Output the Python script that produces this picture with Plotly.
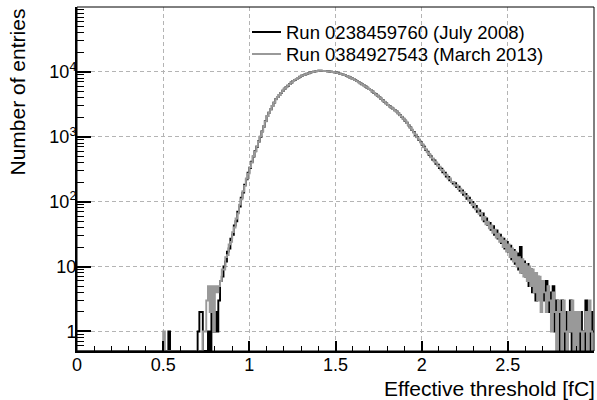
import numpy as np
import plotly.graph_objects as go

# ---------------- data ----------------
bin_width = 0.01
x_edges = np.round(np.arange(0, 301) * bin_width, 2)   # 0.00 ... 3.00

label_2008 = "Run 0238459760 (July 2008)"
label_2013 = "Run 0384927543 (March 2013)"

counts_2008 = [
    0, 0, 0, 0, 0, 0, 0, 0, 0, 0,            # 0.00
    0, 0, 0, 0, 0, 0, 0, 0, 0, 0,            # 0.10
    0, 0, 0, 0, 0, 0, 0, 0, 0, 0,            # 0.20
    0, 0, 0, 0, 0, 0, 0, 0, 0, 0,            # 0.30
    0, 0, 0, 0, 0, 0, 0, 0, 0, 0,            # 0.40
    0, 0, 0, 1, 0, 0, 0, 0, 0, 0,            # 0.50
    0, 0, 0, 0, 0, 0, 0, 0, 0, 0,            # 0.60
    1, 2, 2, 0, 0, 0, 1, 0, 2, 1,            # 0.70
    2, 1, 3, 6, 7, 10, 12, 17, 19, 27,       # 0.80
    31, 43, 50, 70, 84, 115, 138, 182, 221, 279,
    331, 412, 497, 601, 703, 846, 995, 1210, 1440, 1745,
    2080, 2360, 2648, 2999, 3366, 3810, 4087, 4415, 4735, 5112,
    5487, 5815, 6130, 6495, 6848, 7251, 7508, 7806, 8083, 8402,
    8702, 8921, 9112, 9341, 9543, 9780, 9901, 10052, 10179, 10335,
    10463, 10430, 10368, 10335, 10272, 10240, 10131, 10053, 9946, 9870,
    9765, 9601, 9412, 9254, 9071, 8920, 8662, 8440, 8197, 7987,
    7755, 7490, 7203, 6958, 6691, 6464, 6187, 5950, 5695, 5477,
    5240, 4996, 4735, 4515, 4278, 4081, 3848, 3655, 3444, 3273,
    3083, 2958, 2810, 2699, 2563, 2462, 2293, 2165, 2015, 1905,
    1770, 1645, 1499, 1395, 1268, 1183, 1068, 994, 897, 836,
    750, 703, 629, 590, 527, 497, 447, 430, 385, 372,
    331, 322, 284, 279, 244, 241, 214, 202, 190, 192,
    168, 170, 147, 149, 128, 131, 111, 115, 96, 99,
    82, 86, 70, 73, 61, 66, 50, 55, 44, 47,
    37, 42, 31, 36, 27, 31, 23, 27, 19, 24,
    17, 21, 13, 18, 11, 16, 9, 20, 8, 12,
    7, 11, 5, 9, 4, 8, 3, 7, 4, 6,
    5, 3, 6, 2, 4, 3, 5, 1, 3, 2,
    0, 3, 1, 0, 2, 1, 3, 0, 1, 2,
    1, 0, 2, 1, 0, 3, 1, 0, 2, 1,
]

counts_2013 = [
    0, 0, 0, 0, 0, 0, 0, 0, 0, 0,            # 0.00
    0, 0, 0, 0, 0, 0, 0, 0, 0, 0,            # 0.10
    0, 0, 0, 0, 0, 0, 0, 0, 0, 0,            # 0.20
    0, 0, 0, 0, 0, 0, 0, 0, 0, 0,            # 0.30
    0, 0, 0, 0, 0, 0, 0, 0, 0, 0,            # 0.40
    1, 0, 0, 0, 0, 0, 0, 0, 0, 0,            # 0.50
    0, 0, 0, 0, 0, 0, 0, 0, 0, 0,            # 0.60
    0, 0, 0, 1, 1, 3, 5, 2, 5, 1,            # 0.70
    5, 4, 5, 6, 9, 9, 14, 15, 22, 24,        # 0.80
    34, 40, 55, 66, 90, 109, 145, 175, 228, 270,
    339, 401, 505, 590, 712, 836, 1008, 1195, 1452, 1730,
    2095, 2349, 2661, 2985, 3380, 3795, 4100, 4398, 4750, 5098,
    5502, 5800, 6145, 6478, 6862, 7238, 7522, 7790, 8099, 8388,
    8718, 8905, 9128, 9325, 9557, 9765, 9915, 10039, 10193, 10321,
    10478, 10416, 10382, 10321, 10288, 10226, 10146, 10039, 9961, 9856,
    9779, 9587, 9426, 9240, 9085, 8906, 8677, 8426, 8211, 7973,
    7769, 7475, 7218, 6943, 6706, 6450, 6201, 5936, 5709, 5463,
    5255, 4982, 4749, 4501, 4292, 4067, 3862, 3641, 3458, 3259,
    3097, 2944, 2826, 2685, 2577, 2448, 2309, 2151, 2031, 1889,
    1786, 1629, 1515, 1379, 1284, 1167, 1084, 978, 911, 820,
    768, 687, 645, 576, 543, 483, 463, 416, 401, 358,
    347, 308, 300, 265, 260, 227, 228, 201, 202, 178,
    180, 156, 159, 137, 140, 121, 123, 103, 106, 89,
    92, 76, 78, 65, 67, 53, 58, 45, 49, 39,
    43, 33, 37, 28, 32, 24, 28, 20, 25, 17,
    22, 14, 19, 12, 17, 10, 14, 8, 13, 7,
    11, 6, 10, 5, 9, 4, 8, 3, 7, 2,
    6, 4, 2, 5, 3, 1, 4, 2, 0, 3,
    2, 0, 3, 1, 0, 2, 1, 3, 0, 2,
    0, 2, 1, 0, 1, 2, 0, 3, 1, 0,
]

x_tick_vals = [0, 0.5, 1, 1.5, 2, 2.5, 3]
x_tick_text = ["0", "0.5", "1", "1.5", "2", "2.5", "3"]
y_tick_vals = [1, 10, 100, 1000, 10000]
y_tick_text = ["1", "10", "10<sup>2</sup>", "10<sup>3</sup>", "10<sup>4</sup>"]

x_title = "Effective threshold [fC]"
y_title = "Number of entries"

# ---------------- figure ----------------
W, H = 597, 400
ML, MR, MT, MB = 77, 3, 7, 49
PW, PH = W - ML - MR, H - MT - MB

y_floor = 0.5          # zero bins drawn at the frame bottom (as ROOT does)
y_range_log = [np.log10(0.5), 5.0]


def px_x(px):
    return (px - ML) / PW


def px_y(py):
    return (H - MB - py) / PH


def step_xy(counts):
    c = np.asarray(counts, dtype=float)
    y = np.where(c > 0, c, y_floor)
    ys = np.append(y, y[-1])
    return x_edges, ys


FONT = "Liberation Sans, Arial, sans-serif"
series = [(counts_2008, label_2008, "black"),
          (counts_2013, label_2013, "#999999")]

fig = go.Figure()
for counts, name, color in series:
    xs, ys = step_xy(counts)
    fig.add_trace(go.Scatter(
        x=xs, y=ys, mode="lines", name=name, showlegend=False,
        line=dict(color=color, width=1.9, shape="hv"),
        hoverinfo="skip",
    ))

# minor tick positions on the log axis
y_minor = [m * 10 ** e for e in range(-1, 5) for m in range(2, 10) if 0.5 <= m * 10 ** e <= 1e5]

# hand-placed legend (ROOT TLegend look)
legend_rows_px = [32, 54]
shapes = [dict(type="rect", xref="paper", yref="paper", x0=0, x1=1, y0=0, y1=1,
               line=dict(color="black", width=1), layer="above")]
annotations = []
for (counts, name, color), ry in zip(series, legend_rows_px):
    shapes.append(dict(type="line", xref="paper", yref="paper",
                       x0=px_x(252), x1=px_x(281), y0=px_y(ry), y1=px_y(ry),
                       line=dict(color=color, width=2)))
    annotations.append(dict(text=name, xref="paper", yref="paper",
                            x=px_x(284), y=px_y(ry), xanchor="left", yanchor="middle",
                            showarrow=False,
                            font=dict(family=FONT, size=18.5, color="black")))

annotations += [
    dict(text=x_title, xref="paper", yref="paper", x=px_x(597), y=px_y(388.5),
         xanchor="right", yanchor="middle", showarrow=False,
         font=dict(family=FONT, size=21, color="black")),
    dict(text=y_title, xref="paper", yref="paper", x=px_x(17), y=px_y(7),
         xanchor="center", yanchor="top", textangle=-90, showarrow=False,
         font=dict(family=FONT, size=21, color="black")),
]

fig.update_layout(
    width=W, height=H,
    margin=dict(l=ML, r=MR, t=MT, b=MB),
    paper_bgcolor="white", plot_bgcolor="white",
    font=dict(family=FONT, size=18, color="black"),
    showlegend=False,
    xaxis=dict(
        range=[0, 3], automargin=False,
        showline=True, linecolor="black", linewidth=2,
        ticks="inside", ticklen=10, tickwidth=1.5, tickcolor="black",
        tickmode="array", tickvals=x_tick_vals, ticktext=x_tick_text,
        tickfont=dict(family=FONT, size=18), ticklabelstandoff=-4,
        minor=dict(ticks="inside", ticklen=5, tickwidth=1.2, tickcolor="black",
                   dtick=0.1, showgrid=False),
        showgrid=True, gridcolor="#b4b4b4", gridwidth=1, griddash="4px,3px",
        zeroline=False,
    ),
    yaxis=dict(
        type="log", range=y_range_log, automargin=False,
        showline=True, linecolor="black", linewidth=2,
        ticks="inside", ticklen=14, tickwidth=1.5, tickcolor="black",
        tickmode="array", tickvals=y_tick_vals, ticktext=y_tick_text,
        tickfont=dict(family=FONT, size=18), ticklabelstandoff=-5,
        minor=dict(ticks="inside", ticklen=7, tickwidth=1.2, tickcolor="black",
                   tickmode="array", tickvals=y_minor, showgrid=False),
        showgrid=True, gridcolor="#b4b4b4", gridwidth=1, griddash="4px,3px",
        zeroline=False,
    ),
    shapes=shapes,
    annotations=annotations,
)

fig.write_html("out.html")
